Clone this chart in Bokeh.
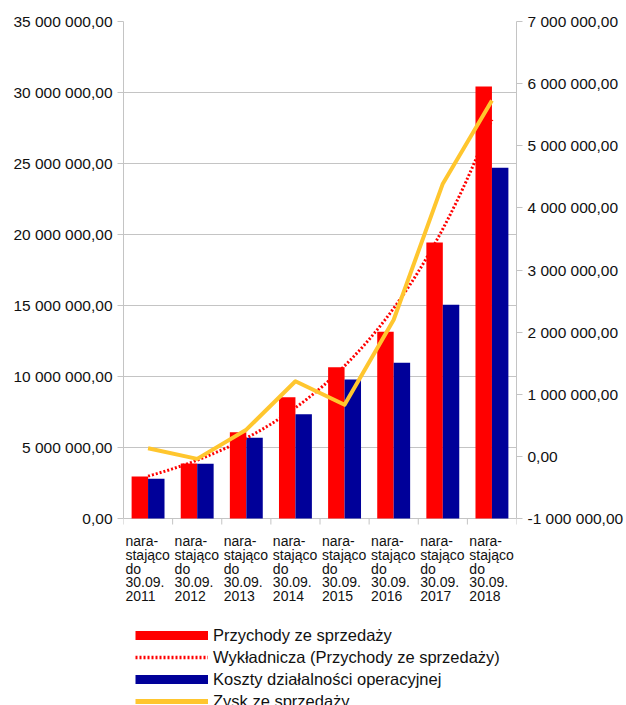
import numpy as np
from bokeh.plotting import figure
from bokeh.models import (Range1d, LinearAxis, FixedTicker, Legend,
                          LegendItem, ColumnDataSource)
from bokeh.core.properties import value
from bokeh.embed import file_html
from bokeh.resources import INLINE

# ---- data ----
categories = ["nara-\nstająco\ndo\n30.09.\n2011", "nara-\nstająco\ndo\n30.09.\n2012",
              "nara-\nstająco\ndo\n30.09.\n2013", "nara-\nstająco\ndo\n30.09.\n2014",
              "nara-\nstająco\ndo\n30.09.\n2015", "nara-\nstająco\ndo\n30.09.\n2016",
              "nara-\nstająco\ndo\n30.09.\n2017", "nara-\nstająco\ndo\n30.09.\n2018"]
przychody = [2960000, 3880000, 6080000, 8540000, 10660000, 13150000, 19440000, 30420000]
koszty = [2800000, 3850000, 5680000, 7350000, 9790000, 10960000, 15050000, 24700000]
zysk = [130000, -40000, 430000, 1210000, 830000, 2200000, 4390000, 5730000]

left_ticks = [0, 5000000, 10000000, 15000000, 20000000, 25000000, 30000000, 35000000]
left_labels = ["0,00", "5 000 000,00", "10 000 000,00", "15 000 000,00", "20 000 000,00",
               "25 000 000,00", "30 000 000,00", "35 000 000,00"]
right_ticks = [-1000000, 0, 1000000, 2000000, 3000000, 4000000, 5000000, 6000000, 7000000]
right_labels = ["-1 000 000,00", "0,00", "1 000 000,00", "2 000 000,00", "3 000 000,00",
                "4 000 000,00", "5 000 000,00", "6 000 000,00", "7 000 000,00"]

series_names = ["Przychody ze sprzedaży", "Wykładnicza (Przychody ze sprzedaży)",
                "Koszty działalności operacyjnej", "Zysk ze sprzedaży"]

RED = "#ff0000"
BLUE = "#000099"
YELLOW = "#ffc62e"
GRID = "#c4c4c4"
TXT = "#111111"
FONT = "Liberation Sans"

# ---- geometry (pixels) ----
W, H = 626, 705
TOP, LEFT, RIGHT = 21, 123, 109
ZERO_Y = 518                      # pixel row of the value axis baseline
PLOT_H = ZERO_Y - TOP             # pixels spanned by the value axes
below = H - ZERO_Y                # extra frame area below the baseline (labels, legend)

L_MIN, L_MAX = left_ticks[0], left_ticks[-1]
R_MIN, R_MAX = right_ticks[0], right_ticks[-1]
lpx = PLOT_H / (L_MAX - L_MIN)
rpx = PLOT_H / (R_MAX - R_MIN)

def ypix(page_y):
    """page pixel row -> left axis data value"""
    return (ZERO_Y - page_y) / lpx

n = len(categories)
centers = np.arange(n) + 0.5
bw = 0.335

p = figure(width=W, height=H, x_range=Range1d(0, n),
           y_range=Range1d(L_MIN - below / lpx, L_MAX),
           output_backend="svg", toolbar_location=None, x_axis_type=None,
           min_border_left=LEFT, min_border_right=RIGHT, min_border_top=TOP, min_border_bottom=0)
p.extra_y_ranges = {"right": Range1d(R_MIN - below / rpx, R_MAX)}
p.outline_line_color = None

# category separators (tick marks below baseline)
p.segment(x0=list(range(n + 1)), y0=[0] * (n + 1), x1=list(range(n + 1)),
          y1=[ypix(ZERO_Y + 6)] * (n + 1), line_color=GRID, line_width=1)

# bars
src = ColumnDataSource(dict(xr=centers - bw / 2, xb=centers + bw / 2,
                            przychody=przychody, koszty=koszty, xc=centers, zysk=zysk))
p.vbar(x="xr", top="przychody", bottom=0, width=bw, source=src, fill_color=RED, line_color=None)
p.vbar(x="xb", top="koszty", bottom=0, width=bw, source=src, fill_color=BLUE, line_color=None)

# exponential trend of revenue (least-squares fit on log values)
b, a = np.polyfit(centers, np.log(przychody), 1)
tx = np.linspace(centers[0], centers[-1], 200)
ty = np.exp(a + b * tx)
r_trend = p.line(tx, ty, line_color=RED, line_width=3, line_dash="2 2")

# profit line on right axis
r_zysk = p.line(x="xc", y="zysk", source=src, y_range_name="right", line_color=YELLOW,
                line_width=4, line_join="round")

# axes
ya = p.yaxis[0]
ya.ticker = FixedTicker(ticks=left_ticks)
ya.major_label_overrides = {t: l for t, l in zip(left_ticks, left_labels)}
ya.bounds = (L_MIN, L_MAX)
ra = LinearAxis(y_range_name="right", ticker=FixedTicker(ticks=right_ticks),
                major_label_overrides={t: l for t, l in zip(right_ticks, right_labels)},
                bounds=(R_MIN, R_MAX))
p.add_layout(ra, "right")

for ax in (ya, ra):
    ax.axis_line_color = GRID
    ax.major_tick_line_color = GRID
    ax.major_tick_out = 6
    ax.major_tick_in = 0
    ax.minor_tick_line_color = None
    ax.major_label_text_font = FONT
    ax.major_label_text_font_size = "15.5px"
    ax.major_label_text_color = TXT
    ax.major_label_standoff = 5

p.ygrid.ticker = FixedTicker(ticks=left_ticks)
p.ygrid.grid_line_color = GRID

# category labels (left aligned, one text per line)
lx, ly, lt = [], [], []
for i, c in enumerate(categories):
    for k, line in enumerate(c.split("\n")):
        lx.append(i + 0.04)
        ly.append(ypix(540.5 + k * 13.75))
        lt.append(line)
p.text(x=lx, y=ly, text=lt, text_align="left", text_baseline="alphabetic",
       text_font=value(FONT), text_font_size="14px", text_color=TXT)

# legend swatches (drawn outside the visible x range, only shown in the legend)
off = [-3, -2]
l1 = p.line(off, [0, 0], line_color=RED, line_width=9)
l2 = p.line(off, [0, 0], line_color=RED, line_width=3.5, line_dash="2 2")
l3 = p.line(off, [0, 0], line_color=BLUE, line_width=9)
l4 = p.line(off, [0, 0], line_color=YELLOW, line_width=5)
legend = Legend(items=[LegendItem(label=series_names[0], renderers=[l1]),
                       LegendItem(label=series_names[1], renderers=[l2]),
                       LegendItem(label=series_names[2], renderers=[l3]),
                       LegendItem(label=series_names[3], renderers=[l4])],
                location=(12, -7), glyph_width=73, glyph_height=22, label_height=22,
                label_standoff=5, spacing=0, padding=0, margin=0,
                border_line_color=None, background_fill_alpha=0,
                label_text_font=FONT, label_text_font_size="16.5px", label_text_color=TXT)
p.add_layout(legend, "center")

open("out.html", "w").write(file_html(p, INLINE))
